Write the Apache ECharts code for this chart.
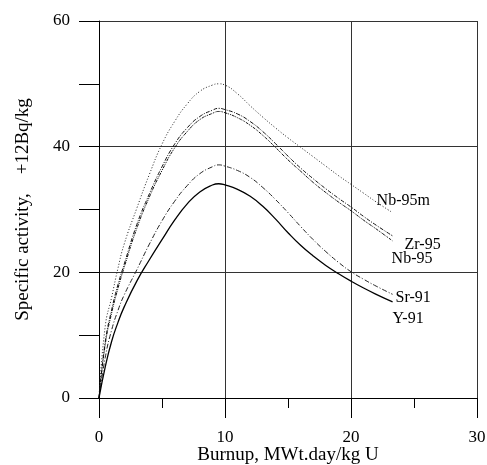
<!DOCTYPE html>
<html>
<head>
<meta charset="utf-8">
<script src="https://cdn.jsdelivr.net/npm/echarts@6/dist/echarts.min.js"></script>
<style>
html,body{margin:0;padding:0;background:#fff;}
#chart{width:487px;height:465px;}
</style>
</head>
<body>
<div id="chart"></div>
<script>
// Burnup, MWt.day/kg U
const burnup = [0, 0.5, 1, 1.5, 2, 3, 4, 5, 6, 7, 8, 9, 9.5, 10, 11, 12, 13, 14, 15, 16, 17, 18, 19, 20, 21, 22, 23.3];
// Specific activity series
const nb95m = [0, 11.5, 16.0, 20.6, 24.5, 30.2, 35.6, 40.4, 44.0, 46.8, 48.8, 49.8, 50.0, 49.8, 48.4, 46.5, 44.7, 43.0, 41.4, 39.9, 38.4, 36.9, 35.4, 34.0, 32.6, 31.2, 29.5];
const zr95  = [0, 9.0, 14.0, 18.0, 21.3, 27.6, 32.5, 36.8, 40.4, 43.0, 44.8, 45.8, 46.1, 45.9, 45.2, 44.0, 42.4, 40.5, 38.5, 36.6, 34.9, 33.3, 31.8, 30.4, 28.9, 27.5, 25.8];
const nb95  = [0, 8.6, 13.5, 17.4, 20.8, 27.0, 32.0, 36.2, 39.8, 42.4, 44.3, 45.3, 45.6, 45.4, 44.6, 43.4, 41.8, 39.9, 37.9, 36.1, 34.3, 32.7, 31.2, 29.8, 28.3, 26.9, 25.0];
const sr91  = [0, 6.5, 10.8, 13.9, 16.4, 20.4, 24.5, 28.2, 31.3, 33.8, 35.7, 36.8, 37.1, 36.9, 36.2, 35.1, 33.5, 31.6, 29.5, 27.3, 25.2, 23.3, 21.6, 20.1, 18.9, 17.8, 16.5];
const y91   = [0, 5.0, 9.0, 12.0, 14.5, 18.6, 22.0, 25.2, 28.3, 30.9, 32.8, 33.9, 34.1, 33.9, 33.2, 32.1, 30.5, 28.5, 26.3, 24.3, 22.6, 21.1, 19.8, 18.6, 17.5, 16.5, 15.3];
const seriesNames = ['Nb-95m', 'Zr-95', 'Nb-95', 'Sr-91', 'Y-91'];
const xTicks = [0, 10, 20, 30];
const yTicks = [0, 20, 40, 60];

const FONT = 'Liberation Serif';
const pair = arr => burnup.map((x, i) => [x, arr[i]]);

const styles = [
  {data: nb95m, type: [1, 2], width: 1, color: '#222', off: [-16, -12]},
  {data: zr95,  type: [4, 1.5, 1, 1.5], width: 1, color: '#111', off: [12, 9]},
  {data: nb95,  type: [3, 1, 1, 1, 1, 1], width: 1, color: '#111', off: [-1, 18]},
  {data: sr91,  type: [5, 2, 1, 2], width: 1, color: '#222', off: [3, 3]},
  {data: y91,   type: 'solid', width: 1.3, color: '#000', off: [0, 17]}
];

const chart = echarts.init(document.getElementById('chart'));
chart.setOption({
  animation: false,
  backgroundColor: '#fff',
  textStyle: {fontFamily: FONT},
  grid: {left: 99, right: 10, top: 21, bottom: 67, containLabel: false, outerBoundsMode: 'none'},
  xAxis: {
    type: 'value', min: xTicks[0], max: xTicks[xTicks.length - 1], interval: 10,
    name: 'Burnup, MWt.day/kg U', nameLocation: 'middle', nameGap: 48, nameMoveOverlap: false,
    nameTextStyle: {fontFamily: FONT, fontSize: 19, color: '#000'},
    axisLine: {show: true, lineStyle: {color: '#000', width: 1}},
    axisTick: {show: true, inside: false, length: 20, lineStyle: {color: '#000', width: 1}},
    minorTick: {show: true, splitNumber: 2, length: 10, lineStyle: {color: '#000', width: 1}},
    axisLabel: {margin: 31, fontFamily: FONT, fontSize: 17, color: '#000'},
    splitLine: {show: true, lineStyle: {color: '#333', width: 1}}
  },
  yAxis: [{
    type: 'value', min: yTicks[0], max: yTicks[yTicks.length - 1], interval: 10,
    name: 'Specific activity,    +12Bq/kg', nameLocation: 'middle', nameGap: 66, nameMoveOverlap: false,
    nameTextStyle: {fontFamily: FONT, fontSize: 19, color: '#000'},
    axisLine: {show: true, lineStyle: {color: '#000', width: 1}},
    axisTick: {show: true, inside: false, length: 20, lineStyle: {color: '#000', width: 1}},
    axisLabel: {margin: 29, fontFamily: FONT, fontSize: 17, color: '#000',
      formatter: v => (yTicks.indexOf(v) >= 0 ? String(v) : '')},
    splitLine: {show: false}
  }, {
    type: 'value', min: yTicks[0], max: yTicks[yTicks.length - 1], interval: 20,
    position: 'left',
    axisLine: {show: false}, axisTick: {show: false}, axisLabel: {show: false},
    splitLine: {show: true, lineStyle: {color: '#333', width: 1}}
  }],
  series: styles.map((s, i) => ({
    name: seriesNames[i],
    type: 'line',
    data: pair(s.data),
    yAxisIndex: 0,
    smooth: 0.5,
    showSymbol: false,
    symbol: 'none',
    lineStyle: {color: s.color, width: s.width, type: s.type},
    endLabel: {
      show: true, formatter: seriesNames[i], distance: 0, offset: s.off,
      fontFamily: FONT, fontSize: 16, color: '#000', align: 'left', verticalAlign: 'middle'
    },
    z: 3
  }))
});
</script>
</body>
</html>
